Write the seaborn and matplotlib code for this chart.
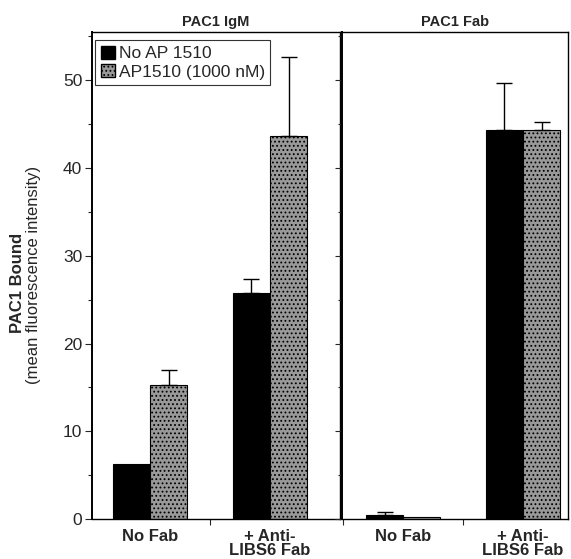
import matplotlib
matplotlib.use("Agg")
import matplotlib.pyplot as plt
import seaborn as sns
import pandas as pd
import numpy as np
from matplotlib.ticker import MultipleLocator, FixedLocator
from matplotlib.patches import Patch

sns.set_style("ticks")
plt.rcParams['font.family'] = ['Liberation Sans', 'DejaVu Sans']
plt.rcParams['hatch.color'] = '#d4d4d4'
plt.rcParams['hatch.linewidth'] = 0.8

categories = ["No Fab", "+ Anti-\nLIBS6 Fab"]
treatments = ["No AP 1510", "AP1510 (1000 nM)"]
panels = ["PAC1 IgM", "PAC1 Fab"]

igm_no_ap = [6.3, 25.7]
igm_ap = [15.3, 43.7]
igm_no_ap_err = [0.0, 1.7]
igm_ap_err = [1.7, 9.0]

fab_no_ap = [0.4, 44.3]
fab_ap = [0.2, 44.3]
fab_no_ap_err = [0.4, 5.4]
fab_ap_err = [0.0, 1.0]

colors = ["#000000", "#999999"]

fig = plt.figure(figsize=(5.71, 5.59), dpi=100)
ax1 = fig.add_axes([92/571, 1-519/559, 248/571, 487/559])
ax2 = fig.add_axes([342/571, 1-519/559, 226/571, 487/559])

panel_data = [
    (ax1, igm_no_ap, igm_ap, igm_no_ap_err, igm_ap_err, (-0.483, 1.583)),
    (ax2, fab_no_ap, fab_ap, fab_no_ap_err, fab_ap_err, (-0.51, 1.375)),
]

for i, (ax, a, b, ea, eb, xl) in enumerate(panel_data):
    df = pd.DataFrame({
        "cond": categories * 2,
        "treat": [treatments[0]] * 2 + [treatments[1]] * 2,
        "val": list(a) + list(b),
        "err": list(ea) + list(eb),
    })
    sns.barplot(data=df, x="cond", y="val", hue="treat", palette=colors,
                width=0.62, errorbar=None, edgecolor="black", linewidth=0.8,
                ax=ax, legend=False, saturation=1)
    nb = len(categories)
    patches = ax.patches[:2*nb]
    for j, p in enumerate(patches):
        if j >= nb:
            p.set_hatch("....")
        x = p.get_x() + p.get_width() / 2
        h = p.get_height()
        e = df["err"].iloc[j]
        if e > 0:
            ax.errorbar([x], [h], yerr=[[0], [e]], fmt="none", ecolor="black",
                        elinewidth=1.0, capsize=6, capthick=1.0)
    ax.set_xlim(*xl)
    ax.set_ylim(0, 55.5)
    ax.set_xlabel("")
    ax.set_ylabel("")
    ax.yaxis.set_major_locator(MultipleLocator(10))
    ax.yaxis.set_minor_locator(MultipleLocator(5))
    ax.xaxis.set_major_locator(FixedLocator([0, 1]))
    ax.xaxis.set_minor_locator(FixedLocator([-0.5, 0.5]))
    ax.set_xticklabels(categories, fontsize=12, fontweight="bold", linespacing=0.95)
    ax.tick_params(axis="x", which="major", length=0, pad=7)
    ax.tick_params(axis="x", which="minor", length=4, width=0.8)
    ax.tick_params(axis="y", which="major", length=5, width=0.8, labelsize=12.5, pad=2)
    ax.tick_params(axis="y", which="minor", length=3, width=0.8)
    for s in ax.spines.values():
        s.set_visible(True)
        s.set_linewidth(1.0)
        s.set_color("black")
    ax.spines["left"].set_linewidth(1.4)
    ax.set_title(panels[i], fontsize=10.5, fontweight="bold", pad=4)

ax2.tick_params(axis="y", labelleft=False)

handles = [Patch(facecolor=colors[0], edgecolor="black", label=treatments[0]),
           Patch(facecolor=colors[1], edgecolor="black", hatch="....", label=treatments[1])]
leg = ax1.legend(handles=handles, loc="upper left", fontsize=12.5, frameon=True,
                 fancybox=False, edgecolor="black", handlelength=0.8, handleheight=0.8,
                 handletextpad=0.25, borderpad=0.3, labelspacing=0.15,
                 borderaxespad=0.2, bbox_to_anchor=(0.0, 0.99))
leg.get_frame().set_linewidth(0.8)

fig.text(18/571, 1-283/559, "PAC1 Bound", rotation=90, fontsize=12,
         fontweight="bold", ha="center", va="center")
fig.text(34/571, 1-275/559, "(mean fluorescence intensity)", rotation=90,
         fontsize=12, ha="center", va="center")

fig.savefig("out.png", dpi=100)
